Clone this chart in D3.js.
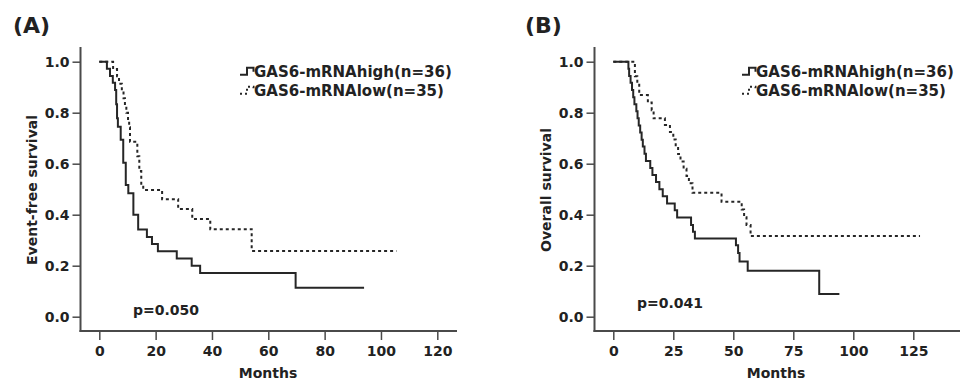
<!DOCTYPE html>
<html>
<head>
<meta charset="utf-8">
<script src="https://cdn.jsdelivr.net/npm/d3@7"></script>
<style>
  body { margin: 0; background: #fff; }
  svg text { font-family: "DejaVu Sans", sans-serif; font-weight: bold; fill: #222; }
</style>
</head>
<body>
<div id="chart"></div>
<script>
// Kaplan-Meier step data (months, survival after each step)
const efsHighMonths = [0, 2.7, 3.8, 4.8, 5.6, 6.0, 6.3, 6.6, 7.6, 8.5, 9.4, 10.3, 12.1, 13.8, 16.9, 18.7, 20.8, 27.5, 32.8, 35.8, 69.7];
const efsHighSurv   = [1.0, 0.972, 0.944, 0.917, 0.889, 0.833, 0.778, 0.745, 0.694, 0.604, 0.516, 0.484, 0.40, 0.342, 0.313, 0.285, 0.257, 0.228, 0.200, 0.171, 0.114];
const efsHighEnd = 94.0;

const efsLowMonths = [0, 4.9, 6.3, 7.0, 8.0, 8.6, 9.1, 9.6, 10.2, 10.6, 10.9, 13.5, 14.2, 14.9, 15.6, 22.3, 28.0, 33.0, 39.4, 54.1];
const efsLowSurv   = [1.0, 0.971, 0.943, 0.914, 0.886, 0.857, 0.829, 0.80, 0.771, 0.743, 0.686, 0.629, 0.571, 0.514, 0.497, 0.461, 0.422, 0.383, 0.343, 0.258];
const efsLowEnd = 105.5;

const osHighMonths = [0, 6.3, 6.6, 7.2, 7.8, 8.3, 8.8, 9.6, 10.1, 10.6, 11.2, 11.8, 12.3, 13.0, 13.6, 15.4, 16.3, 17.8, 19.2, 20.6, 22.4, 24.0, 25.6, 26.6, 32.4, 33.2, 34.0, 51.1, 52.0, 52.6, 56.0, 85.8];
const osHighSurv   = [1.0, 0.972, 0.944, 0.917, 0.889, 0.861, 0.833, 0.806, 0.778, 0.750, 0.722, 0.694, 0.667, 0.639, 0.611, 0.583, 0.556, 0.528, 0.50, 0.472, 0.444, 0.444, 0.417, 0.389, 0.36, 0.333, 0.307, 0.28, 0.25, 0.216, 0.18, 0.089];
const osHighEnd = 94.2;

const osLowMonths = [0, 9.0, 10.0, 10.8, 14.4, 16.0, 16.8, 21.5, 23.6, 25.0, 26.0, 27.0, 28.0, 29.3, 30.5, 31.5, 33.0, 45.1, 53.5, 54.5, 55.5, 57.2];
const osLowSurv   = [1.0, 0.943, 0.914, 0.869, 0.84, 0.81, 0.778, 0.752, 0.724, 0.695, 0.667, 0.638, 0.609, 0.58, 0.552, 0.523, 0.486, 0.451, 0.42, 0.39, 0.36, 0.316];
const osLowEnd = 127.8;

const efsTicks = [0, 20, 40, 60, 80, 100, 120];
const osTicks = [0, 25, 50, 75, 100, 125];
const survTicks = [0.0, 0.2, 0.4, 0.6, 0.8, 1.0];
const legendLabels = ['GAS6-mRNAhigh(n=36)', 'GAS6-mRNAlow(n=35)'];

const width = 960, height = 381;
const lineColor = '#262626';
const axisColor = '#4a4a4a';

const svg = d3.select('#chart')
  .append('svg')
  .attr('width', width)
  .attr('height', height);

const y = d3.scaleLinear().domain([0, 1]).range([316.7, 61.7]);

function drawPanel(p) {
  const g = svg.append('g');
  const x = d3.scaleLinear().domain([0, p.tickValues[p.tickValues.length - 1]]).range(p.xRange);
  const xAxisY = 331;

  // axes
  g.append('g')
    .attr('transform', `translate(0, ${xAxisY})`)
    .call(d3.axisBottom(x).tickValues(p.tickValues).tickSize(9).tickPadding(6).tickSizeOuter(0))
    .call(a => a.select('.domain').remove())
    .call(a => a.selectAll('line').attr('stroke', axisColor).attr('stroke-width', 1.5))
    .call(a => a.selectAll('text').style('font-size', '14px').attr('fill', '#222'));

  g.append('g')
    .attr('transform', `translate(${p.axisX}, 0)`)
    .call(d3.axisLeft(y).tickValues(survTicks).tickFormat(d3.format('.1f')).tickSize(8).tickPadding(3).tickSizeOuter(0))
    .call(a => a.select('.domain').remove())
    .call(a => a.selectAll('line').attr('stroke', axisColor).attr('stroke-width', 1.5))
    .call(a => a.selectAll('text').style('font-size', '14px').attr('fill', '#222'));

  g.append('line')
    .attr('x1', p.axisX).attr('x2', p.axisX)
    .attr('y1', 47).attr('y2', xAxisY + 1)
    .attr('stroke', axisColor).attr('stroke-width', 2);
  g.append('line')
    .attr('x1', p.axisX - 1).attr('x2', p.xAxisEnd)
    .attr('y1', xAxisY).attr('y2', xAxisY)
    .attr('stroke', axisColor).attr('stroke-width', 2);

  // survival curves
  const line = d3.line()
    .x(d => x(d[0]))
    .y(d => y(d[1]))
    .curve(d3.curveStepAfter);

  p.series.forEach(s => {
    const pts = s.months.map((m, i) => [m, s.surv[i]]);
    pts.push([s.end, s.surv[s.surv.length - 1]]);
    g.append('path')
      .datum(pts)
      .attr('d', line)
      .attr('fill', 'none')
      .attr('stroke', lineColor)
      .attr('stroke-width', 2)
      .attr('stroke-dasharray', s.dashed ? '3,3' : null);
  });

  // legend
  legendLabels.forEach((label, i) => {
    const by = 76.7 + i * 19;
    const lx = p.legendX;
    g.append('path')
      .attr('d', `M${lx},${by - 2}H${lx + 7}V${by - 9}H${lx + 13.5}V${by - 5}`)
      .attr('fill', 'none')
      .attr('stroke', lineColor)
      .attr('stroke-width', 2)
      .attr('stroke-dasharray', i === 1 ? '2,3' : null);
    g.append('text')
      .attr('x', lx + 14)
      .attr('y', by)
      .style('font-size', '15px')
      .text(label);
  });

  // panel label, axis titles, p value
  g.append('text')
    .attr('x', p.labelX).attr('y', 33)
    .style('font-size', '22px')
    .text(p.label);

  g.append('text')
    .attr('transform', `translate(${p.titleX}, 190) rotate(-90)`)
    .attr('text-anchor', 'middle')
    .style('font-size', '14px')
    .text(p.yTitle);

  g.append('text')
    .attr('x', p.monthsX).attr('y', 378)
    .attr('text-anchor', 'middle')
    .style('font-size', '14px')
    .text('Months');

  g.append('text')
    .attr('x', p.pX).attr('y', p.pY)
    .style('font-size', '14px')
    .text(p.pText);
}

drawPanel({
  label: '(A)', labelX: 13,
  axisX: 80.5, xRange: [99.3, 437.3], xAxisEnd: 457,
  tickValues: efsTicks,
  yTitle: 'Event-free survival', titleX: 37,
  monthsX: 268, legendX: 240,
  pText: 'p=0.050', pX: 133, pY: 315,
  series: [
    { months: efsHighMonths, surv: efsHighSurv, end: efsHighEnd, dashed: false },
    { months: efsLowMonths, surv: efsLowSurv, end: efsLowEnd, dashed: true }
  ]
});

drawPanel({
  label: '(B)', labelX: 525,
  axisX: 594.5, xRange: [613.3, 913.3], xAxisEnd: 960,
  tickValues: osTicks,
  yTitle: 'Overall survival', titleX: 551,
  monthsX: 776, legendX: 742,
  pText: 'p=0.041', pX: 637, pY: 308,
  series: [
    { months: osHighMonths, surv: osHighSurv, end: osHighEnd, dashed: false },
    { months: osLowMonths, surv: osLowSurv, end: osLowEnd, dashed: true }
  ]
});
</script>
</body>
</html>
